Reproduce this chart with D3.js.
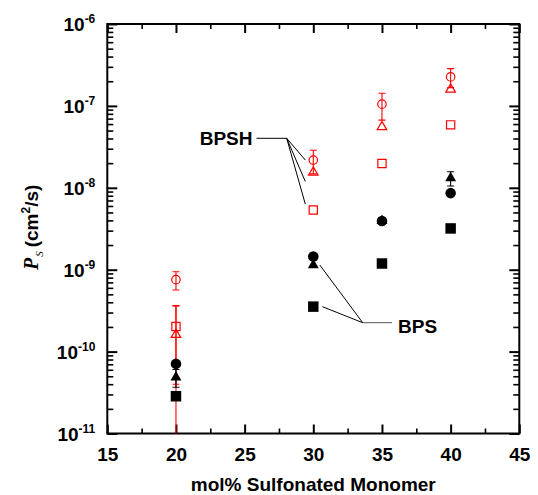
<!DOCTYPE html>
<html>
<head>
<meta charset="utf-8">
<script src="https://cdn.jsdelivr.net/npm/d3@7"></script>
<style>
  html, body { margin: 0; padding: 0; background: #fff; }
  svg { display: block; }
  text { font-family: "Liberation Sans", Arial, sans-serif; font-weight: bold; }
</style>
</head>
<body>
<svg id="chart" width="538" height="495"></svg>
<script>
// Sulfonated monomer content (mol%)
const sulfonation = [20, 30, 35, 40];

// BPSH membranes (red, open symbols)
const bpshCircle = [7.55e-10, 2.18e-8, 1.05e-7, 2.26e-7];
const bpshCircleErr = [1.9e-10, 0.7e-8, 0.38e-7, 0.59e-7];
const bpshTriangle = [1.61e-10, 1.54e-8, 5.54e-8, 1.59e-7];
const bpshTriangleErr = [2.0e-10, 0, 0, 0];
const bpshSquare = [2.02e-10, 5.35e-9, 1.98e-8, 5.87e-8];
const bpshSquareErr = [1.62e-10, 0, 0, 0];

// BPS membranes (black, filled symbols)
const bpsCircle = [7.08e-11, 1.45e-9, 3.93e-9, 8.61e-9];
const bpsTriangle = [4.86e-11, 1.14e-9, 3.95e-9, 1.31e-8];
const bpsTriangleErr = [1.19e-11, 0, 0, 0.26e-8];
const bpsSquare = [2.85e-11, 3.54e-10, 1.19e-9, 3.19e-9];

// Axis ticks
const xMajorTicks = [15, 20, 25, 30, 35, 40, 45];
const xMinorTicks = [17.5, 22.5, 27.5, 32.5, 37.5, 42.5];
const yExponents = [-11, -10, -9, -8, -7, -6];

const svg = d3.select("#chart");
const L = 107.3, R = 519.3, T = 24, B = 433.5;

const x = d3.scaleLinear().domain([15, 45]).range([L, R]);
const y = d3.scaleLog().domain([1e-11, 1e-6]).range([B, T]);

const yMajorTicks = yExponents.map(e => Math.pow(10, e));
const yMinorTicks = [];
yExponents.slice(0, -1).forEach(e => {
  for (let k = 2; k <= 9; k++) yMinorTicks.push(k * Math.pow(10, e));
});

// ---- axes ----
function styleTicks(g, w) {
  g.select(".domain").remove();
  g.selectAll(".tick line").attr("stroke", "#000").attr("stroke-width", w);
}

// bottom
svg.append("g").attr("transform", `translate(0,${B})`)
  .call(d3.axisBottom(x).tickValues(xMajorTicks).tickSizeInner(-9).tickSizeOuter(0).tickPadding(14))
  .call(g => styleTicks(g, 2))
  .call(g => g.selectAll(".tick text").attr("font-size", 19).attr("fill", "#000")
    .attr("font-family", "Liberation Sans, Arial, sans-serif").attr("font-weight", "bold"));
svg.append("g").attr("transform", `translate(0,${B})`)
  .call(d3.axisBottom(x).tickValues(xMinorTicks).tickSizeInner(-5).tickSizeOuter(0).tickFormat(""))
  .call(g => styleTicks(g, 1.6));
// top
svg.append("g").attr("transform", `translate(0,${T})`)
  .call(d3.axisTop(x).tickValues(xMajorTicks).tickSizeInner(-9).tickSizeOuter(0).tickFormat(""))
  .call(g => styleTicks(g, 2));
svg.append("g").attr("transform", `translate(0,${T})`)
  .call(d3.axisTop(x).tickValues(xMinorTicks).tickSizeInner(-5).tickSizeOuter(0).tickFormat(""))
  .call(g => styleTicks(g, 1.6));

// left
const gLeft = svg.append("g").attr("transform", `translate(${L},0)`)
  .call(d3.axisLeft(y).tickValues(yMajorTicks).tickSizeInner(-10).tickSizeOuter(0).tickPadding(12))
  .call(g => styleTicks(g, 2));
gLeft.selectAll(".tick text")
  .attr("fill", "#000").attr("font-size", 19).attr("dy", "0.36em")
  .attr("font-family", "Liberation Sans, Arial, sans-serif").attr("font-weight", "bold")
  .each(function (d) {
    const t = d3.select(this).text(null);
    const e = Math.round(Math.log10(d));
    t.append("tspan").text("10");
    t.append("tspan").attr("font-size", 12).attr("dy", -8).text(String(e));
  });
svg.append("g").attr("transform", `translate(${L},0)`)
  .call(d3.axisLeft(y).tickValues(yMinorTicks).tickSizeInner(-6).tickSizeOuter(0).tickFormat(""))
  .call(g => styleTicks(g, 1.6));
// right
svg.append("g").attr("transform", `translate(${R},0)`)
  .call(d3.axisRight(y).tickValues(yMajorTicks).tickSizeInner(-10).tickSizeOuter(0).tickFormat(""))
  .call(g => styleTicks(g, 2));
svg.append("g").attr("transform", `translate(${R},0)`)
  .call(d3.axisRight(y).tickValues(yMinorTicks).tickSizeInner(-6).tickSizeOuter(0).tickFormat(""))
  .call(g => styleTicks(g, 1.6));

// frame
svg.append("rect").attr("x", L).attr("y", T).attr("width", R - L).attr("height", B - T)
  .attr("fill", "none").attr("stroke", "#000").attr("stroke-width", 2);

// ---- axis titles ----
svg.append("text")
  .attr("x", (L + R) / 2).attr("y", 491)
  .attr("text-anchor", "middle").attr("font-size", 19).attr("fill", "#000")
  .text("mol% Sulfonated Monomer");

const yTitle = svg.append("text")
  .attr("transform", "rotate(-90)")
  .attr("x", -270).attr("y", 38)
  .attr("font-size", 19).attr("fill", "#000");
yTitle.append("tspan").attr("font-family", "Liberation Serif, Times New Roman, serif")
  .attr("font-style", "italic").attr("font-size", 20).text("P");
yTitle.append("tspan").attr("font-family", "Liberation Serif, Times New Roman, serif")
  .attr("font-style", "italic").attr("font-weight", "normal").attr("font-size", 11)
  .attr("dx", 1).attr("dy", 5).text("S");
yTitle.append("tspan").attr("dy", -5).attr("dx", 4).text("(cm");
yTitle.append("tspan").attr("font-size", 12).attr("dy", -8).text("2");
yTitle.append("tspan").attr("dy", 8).text("/s)");

// ---- error bars ----
const plot = svg.append("g");
svg.append("clipPath").attr("id", "plotClip")
  .append("rect").attr("x", L).attr("y", T).attr("width", R - L).attr("height", B - T);
const errLayer = plot.append("g").attr("clip-path", "url(#plotClip)");

function errorBars(values, errs, color) {
  sulfonation.forEach((s, i) => {
    const v = values[i], e = errs[i];
    if (!e) return;
    const cx = x(s);
    const hi = v + e, lo = v - e;
    const yHi = y(hi);
    const yLo = lo > 0 ? y(lo) : B + 2;
    errLayer.append("line").attr("x1", cx).attr("x2", cx).attr("y1", yHi).attr("y2", yLo)
      .attr("stroke", color).attr("stroke-width", 1.1);
    errLayer.append("line").attr("x1", cx - 3.5).attr("x2", cx + 3.5).attr("y1", yHi).attr("y2", yHi)
      .attr("stroke", color).attr("stroke-width", 1.1);
    if (lo > 0) {
      errLayer.append("line").attr("x1", cx - 3.5).attr("x2", cx + 3.5).attr("y1", yLo).attr("y2", yLo)
        .attr("stroke", color).attr("stroke-width", 1.1);
    }
  });
}
errorBars(bpshTriangle, bpshTriangleErr, "#ff0000");
errorBars(bpshSquare, bpshSquareErr, "#ff0000");
errorBars(bpshCircle, bpshCircleErr, "#ff0000");
errorBars(bpsTriangle, bpsTriangleErr, "#000");

// ---- markers ----
const markers = plot.append("g");
function series(values, type, size, filled, color) {
  markers.selectAll(null).data(sulfonation.map((s, i) => [s, values[i]]))
    .join("path")
    .attr("transform", d => `translate(${x(d[0])},${y(d[1])})`)
    .attr("d", d3.symbol().type(type).size(size))
    .attr("fill", filled ? color : "none")
    .attr("stroke", filled ? "none" : color)
    .attr("stroke-width", filled ? 0 : 1.2);
}
series(bpshSquare, d3.symbolSquare, 68, false, "#ff0000");
series(bpshTriangle, d3.symbolTriangle, 40, false, "#ff0000");
series(bpshCircle, d3.symbolCircle, 56, false, "#ff0000");
series(bpsTriangle, d3.symbolTriangle, 52, true, "#000");
series(bpsSquare, d3.symbolSquare, 110, true, "#000");
series(bpsCircle, d3.symbolCircle, 88, true, "#000");

// ---- annotations ----
const ann = svg.append("g").attr("stroke", "#000").attr("stroke-width", 1).attr("fill", "none");
const hubH = [286.7, 138.3];
ann.append("line").attr("x1", 256.5).attr("y1", hubH[1]).attr("x2", hubH[0]).attr("y2", hubH[1]);
[[bpshCircle[1], 0], [bpshTriangle[1], 9], [bpshSquare[1], -6]].forEach(([v, off]) => {
  ann.append("line").attr("x1", hubH[0]).attr("y1", hubH[1])
    .attr("x2", x(30) - 8).attr("y2", y(v) + off);
});
svg.append("text").attr("x", 252.5).attr("y", 145).attr("text-anchor", "end")
  .attr("font-size", 19).attr("fill", "#000").text("BPSH");

const hubS = [362.7, 322.7];
ann.append("line").attr("x1", hubS[0]).attr("y1", hubS[1]).attr("x2", 392).attr("y2", hubS[1])
  .attr("stroke", "#555");
[[bpsTriangle[1], 6.5], [bpsSquare[1], 9]].forEach(([v, dx]) => {
  ann.append("line").attr("x1", hubS[0]).attr("y1", hubS[1])
    .attr("x2", x(30) + dx).attr("y2", y(v));
});
svg.append("text").attr("x", 398).attr("y", 333)
  .attr("font-size", 19).attr("fill", "#000").text("BPS");
</script>
</body>
</html>
